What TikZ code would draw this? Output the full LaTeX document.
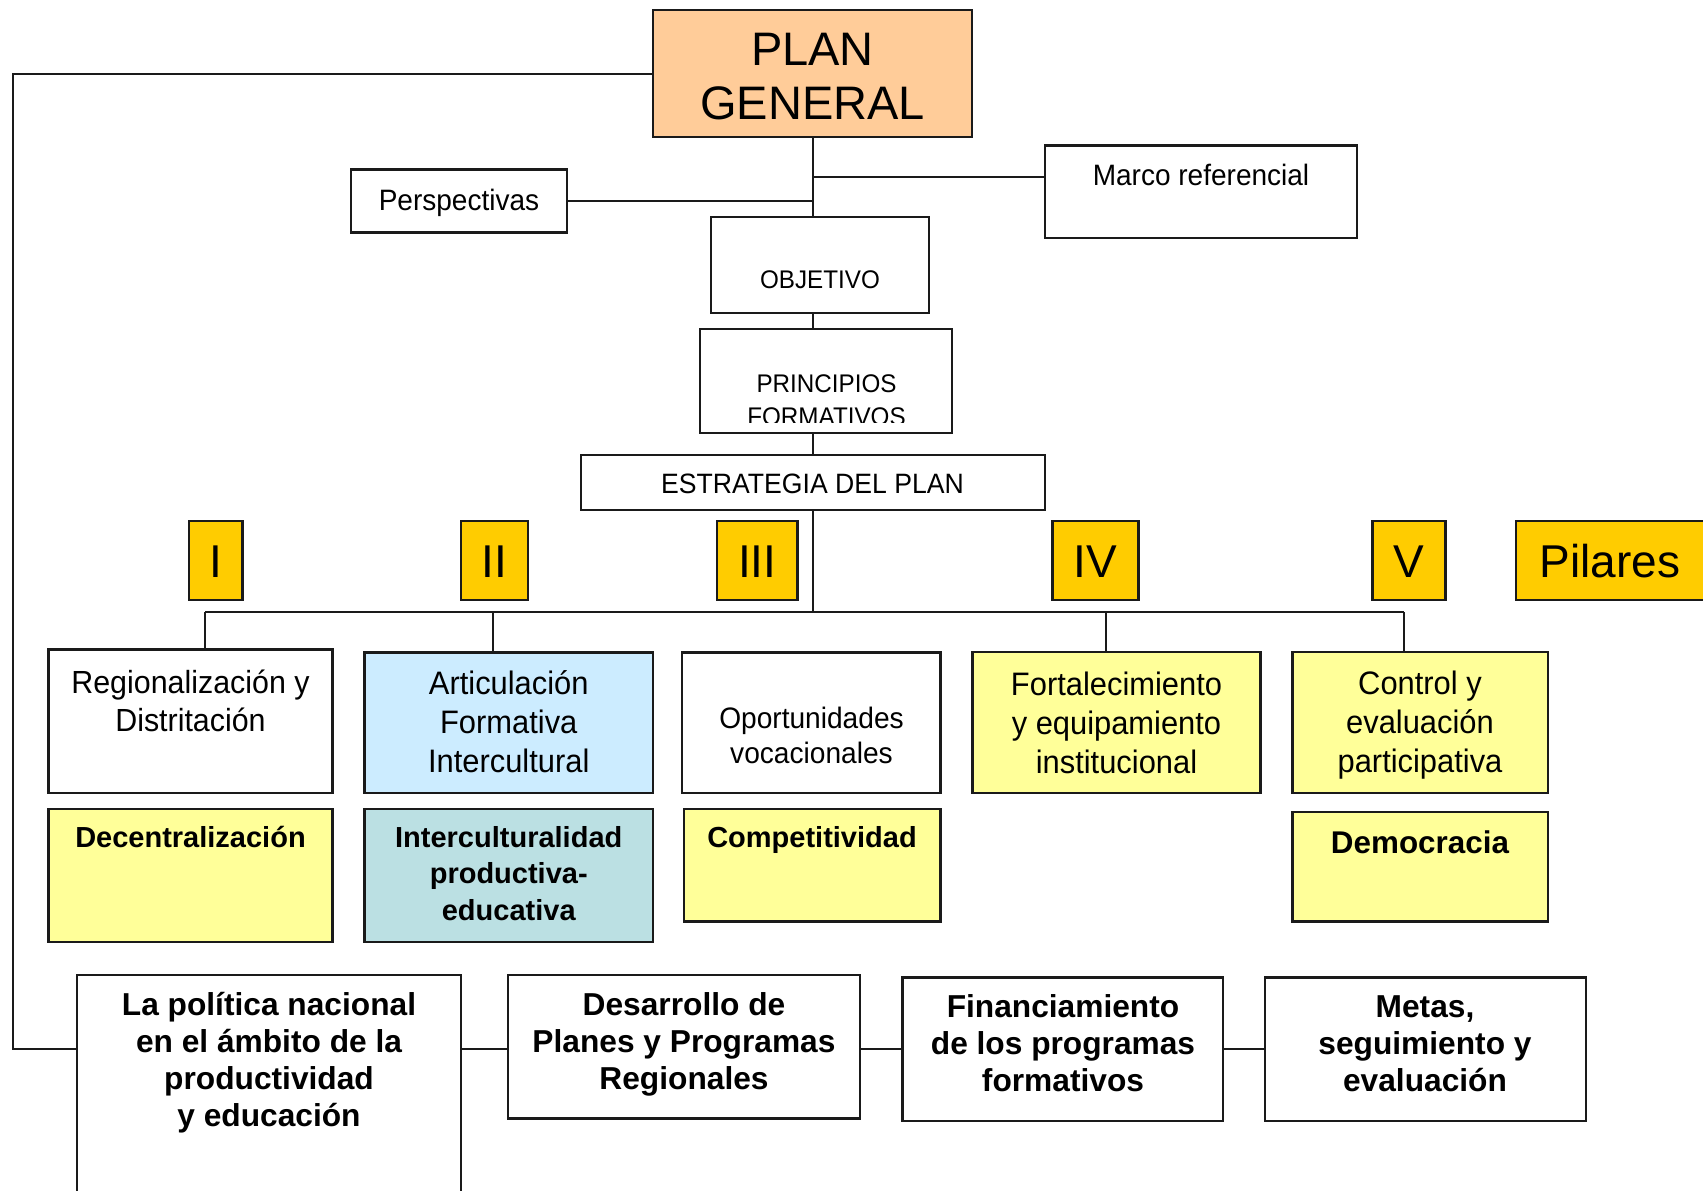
\documentclass[tikz,border=0pt]{standalone}
\usepackage{fontspec}
\setmainfont{Liberation Sans}
\newfontfamily\nf[FakeStretch=0.95]{Liberation Sans}
\usetikzlibrary{fit}
\definecolor{peach}{HTML}{FFCC99}
\definecolor{gold}{HTML}{FFCC00}
\definecolor{ltblue}{HTML}{CCECFF}
\definecolor{ltyel}{HTML}{FFFF99}
\definecolor{tealbg}{HTML}{BBE0E3}
\definecolor{edge}{HTML}{1A1A1A}
\newcommand\fs[2]{\fontsize{#1}{#2}\selectfont}
\begin{document}
\begin{tikzpicture}[x=1pt,y=-1pt,
 bx/.style={draw=edge, line width=2.2pt, inner sep=0pt, outer sep=0pt},
 tx/.style={anchor=base, inner sep=0pt, align=center, text=black},
 ln/.style={draw=edge, line width=2pt},
 reg/.style={tx, font=\nf\fs{32.5}{39}},
 bld/.style={tx, font=\bfseries\fs{29}{36.5}},
 bbig/.style={tx, font=\bfseries\fs{31.7}{37}},
 num/.style={tx, font=\fs{46}{50}}]
\useasboundingbox[fill=white] (0,0) rectangle (1703,1191);

% boxes
\node[bx, fill=peach, fit={(653,10) (972,137)}] (plan) {};
\node[bx, fit={(1045,145.5) (1357,238)}] (marco) {};
\node[bx, fit={(351,169.5) (567,232.5)}] (persp) {};
\node[bx, fit={(711,217) (929,313)}] (obj) {};
\node[bx, fit={(700,329) (952,433)}] (princ) {};
\node[bx, fit={(581,455) (1045,510)}] (estr) {};
\node[bx, fill=gold, fit={(189,521) (242.5,600)}] (n1) {};
\node[bx, fill=gold, fit={(461,521) (528,600)}] (n2) {};
\node[bx, fill=gold, fit={(717,521) (797.5,600)}] (n3) {};
\node[bx, fill=gold, fit={(1052.5,521) (1138.5,600)}] (n4) {};
\node[bx, fill=gold, fit={(1372.5,521) (1445.5,600)}] (n5) {};
\node[bx, fill=gold, fit={(1516,521) (1720,600)}] (pil) {};
\node[bx, fit={(48.5,649.5) (332.5,793)}] (regb) {};
\node[bx, fill=ltblue, fit={(364.5,652.5) (653,793)}] (art) {};
\node[bx, fit={(682,652.5) (940.5,793)}] (opo) {};
\node[bx, fill=ltyel, fit={(972.5,652) (1260.5,793)}] (fort) {};
\node[bx, fill=ltyel, fit={(1292.5,652) (1548,793)}] (ctrl) {};
\node[bx, fill=ltyel, fit={(48.5,809) (332.5,942)}] (dec) {};
\node[bx, fill=tealbg, fit={(364.5,809) (653,942)}] (intc) {};
\node[bx, fill=ltyel, fit={(684,809) (940.5,921.5)}] (comp) {};
\node[bx, fill=ltyel, fit={(1292.5,812) (1548,921.5)}] (dem) {};
\node[bx, fit={(77,975) (461,1215)}] (pol) {};
\node[bx, fit={(508,975) (860,1118.5)}] (des) {};
\node[bx, fit={(902.5,977.5) (1223,1121)}] (fin) {};
\node[bx, fit={(1265,977.5) (1586,1121)}] (met) {};

% texts (anchor base = baseline of the last line)
\node[tx, font=\fs{47}{54}] (tplan) at (812.5,119) {PLAN\\GENERAL};
\node[tx, font=\nf\fs{29.5}{35}] (tmarco) at (1201,185) {Marco referencial};
\node[tx, font=\nf\fs{29.5}{35}] (tpersp) at (459,210) {Perspectivas};
\node[tx, font=\nf\fs{25.5}{33}] (tobj) at (820,288) {OBJETIVO};
\node[tx, font=\nf\fs{25.5}{33}] (tprinc) at (826.5,392) {PRINCIPIOS};
\begin{scope}
\clip (700,329) rectangle (952,422);
\node[tx, font=\nf\fs{25.5}{33}] (tform) at (826.5,425) {FORMATIVOS};
\end{scope}
\node[tx, font=\nf\fs{28}{33}] (testr) at (812.5,493) {ESTRATEGIA DEL PLAN};
\node[num] (tn1) at (215.75,577) {I};
\node[num] (tn2) at (494.5,577) {II};
\node[num] (tn3) at (757.25,577) {III};
\node[num] (tn4) at (1095.5,577) {IV};
\node[num] (tn5) at (1409,577) {V};
\node[num] (tpil) at (1610,577) {Pilares};
\node[tx, font=\nf\fs{32}{38}] (treg) at (190.5,731) {Regionalización y\\Distritación};
\node[reg] (tart) at (508.75,772) {Articulación\\Formativa\\Intercultural};
\node[tx, font=\nf\fs{29.6}{35}] (topo) at (811.5,763) {Oportunidades\\vocacionales};
\node[reg] (tfort) at (1116.5,773) {Fortalecimiento\\y equipamiento\\institucional};
\node[reg] (tctrl) at (1420,772) {Control y\\evaluación\\participativa};
\node[bld] (tdec) at (190.5,847) {Decentralización};
\node[bld] (tintc) at (508.75,920) {Interculturalidad\\productiva-\\educativa};
\node[bld] (tcomp) at (812,847) {Competitividad};
\node[tx, font=\bfseries\fs{31.4}{37}] (tdem) at (1420,853) {Democracia};
\node[bbig] (tpol) at (269,1126.5) {La política nacional\\en el ámbito de la\\productividad\\y educación};
\node[bbig] (tdes) at (684,1089.5) {Desarrollo de\\Planes y Programas\\Regionales};
\node[bbig] (tfin) at (1063,1091.5) {Financiamiento\\de los programas\\formativos};
\node[bbig] (tmet) at (1425,1091.5) {Metas,\\seguimiento y\\evaluación};

% connectors
\coordinate (jm) at (812.5,177);
\coordinate (bL) at (205,612);
\coordinate (b2) at (493,612);
\coordinate (b4) at (1105.5,612);
\coordinate (bR) at (1404,612);
\coordinate (lp) at (13,1049);
\draw[ln] (plan.south) -- (obj.north -| plan.south);
\draw[ln] (obj.south -| plan.south) -- (princ.north -| plan.south);
\draw[ln] (princ.south -| plan.south) -- (estr.north -| plan.south);
\draw[ln] (estr.south -| plan.south) -- (bL -| plan.south);
\draw[ln] (jm) -- (jm -| marco.west);
\draw[ln] (persp.east) -- (persp.east -| plan.south);
\draw[ln] (bL) -- (bR);
\draw[ln] (bL) -- (bL |- regb.north);
\draw[ln] (b2) -- (b2 |- art.north);
\draw[ln] (b4) -- (b4 |- fort.north);
\draw[ln] (bR) -- (bR |- ctrl.north);
\draw[ln] (plan.west) -| (lp) -- (lp -| pol.west);
\draw[ln] (lp -| pol.east) -- (lp -| des.west);
\draw[ln] (lp -| des.east) -- (lp -| fin.west);
\draw[ln] (lp -| fin.east) -- (lp -| met.west);
\end{tikzpicture}
\end{document}
